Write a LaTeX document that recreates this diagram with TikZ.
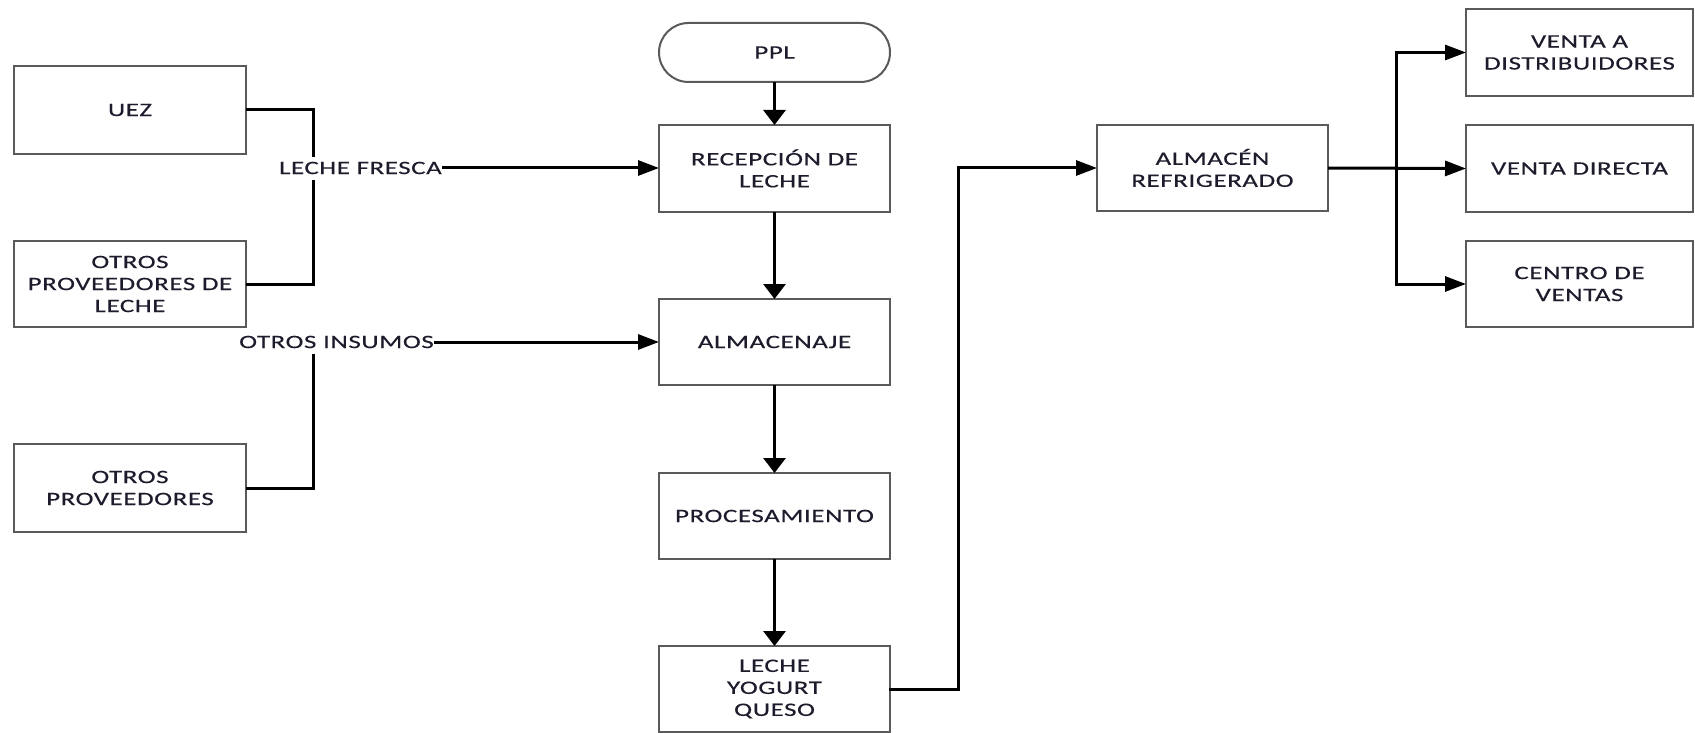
\documentclass[tikz,border=0pt]{standalone}
\usepackage{fontspec}
\setmainfont{Carlito}[FakeStretch=1.42, LetterSpace=3, FakeBold=0.3]
\usetikzlibrary{arrows.meta,calc}
\definecolor{boxline}{HTML}{5A5A5A}
\definecolor{txt}{HTML}{1C1C2C}
\tikzset{
  box/.style={draw=boxline, line width=2pt, fill=white, align=center, text=txt,
    font=\fontsize{19}{22}\selectfont, inner sep=2pt, outer sep=0pt},
  lbl/.style={text=txt, font=\fontsize{19}{22}\selectfont, inner sep=0pt, outer sep=0pt},
  conn/.style={draw=black, line width=3pt},
  harr/.style={conn, -{Triangle[length=21pt,width=15pt]}},
  varr/.style={conn, -{Triangle[length=15pt,width=22pt]}}
}
\begin{document}
\begin{tikzpicture}[x=1pt,y=-1pt]
\useasboundingbox (0,0) rectangle (1695,733);
% left column
\node[box, minimum width=232pt, minimum height=88pt] (uez) at (130,110) {UEZ};
\node[box, minimum width=232pt, minimum height=86pt] (opl) at (130,284) {OTROS\\PROVEEDORES DE\\LECHE};
\node[box, minimum width=232pt, minimum height=88pt] (op) at (130,488) {OTROS\\PROVEEDORES};
% labels
\node[lbl] (lf) at (360.5,168) {LECHE FRESCA};
\node[lbl] (oi) at (336.5,342) {OTROS INSUMOS};
\coordinate (vx) at (313,0);
% main column
\node[box, minimum width=231pt, minimum height=59pt, rounded corners=29.5pt] (ppl) at (774.5,52.5) {PPL};
\node[box, minimum width=231pt, minimum height=87pt] (rec) at (774.5,168.5) {RECEPCIÓN DE\\LECHE};
\node[box, minimum width=231pt, minimum height=86pt] (alm) at (774.5,342) {ALMACENAJE};
\node[box, minimum width=231pt, minimum height=86pt] (proc) at (774.5,516) {PROCESAMIENTO};
\node[box, minimum width=231pt, minimum height=86pt] (prod) at (774.5,689) {LECHE\\YOGURT\\QUESO};
% right
\node[box, minimum width=231pt, minimum height=86pt] (ref) at (1212.5,168) {ALMACÉN\\REFRIGERADO};
\node[box, minimum width=227pt, minimum height=87pt] (vd1) at (1579.5,52.5) {VENTA A\\DISTRIBUIDORES};
\node[box, minimum width=227pt, minimum height=87pt] (vd2) at (1579.5,168.5) {VENTA DIRECTA};
\node[box, minimum width=227pt, minimum height=86pt] (cv) at (1579.5,284) {CENTRO DE\\VENTAS};
\coordinate (jx) at (958,0);
\coordinate (bx) at (1396,168);
% connectors left
\draw[conn] (uez.east) -| ($(vx |- lf.north)+(0,-5)$);
\draw[conn] (opl.east) -| ($(vx |- lf.south)+(0,6)$);
\draw[harr] (lf.east) -- (rec.west |- lf.east);
\draw[conn] (op.east) -| ($(vx |- oi.south)+(0,6)$);
\draw[harr] (oi.east) -- (alm.west |- oi.east);
% main chain
\draw[varr] (ppl.south) -- (rec.north);
\draw[varr] (rec.south) -- (alm.north);
\draw[varr] (alm.south) -- (proc.north);
\draw[varr] (proc.south) -- (prod.north);
\draw[conn, line cap=rect] (prod.east) -| (jx |- ref.west);
\draw[harr] (jx |- ref.west) -- (ref.west);
% outputs
\draw[harr] (ref.east) -- (vd2.west);
\draw[harr] (bx) |- (vd1.west);
\draw[harr] (bx) |- (cv.west);
\end{tikzpicture}
\end{document}
